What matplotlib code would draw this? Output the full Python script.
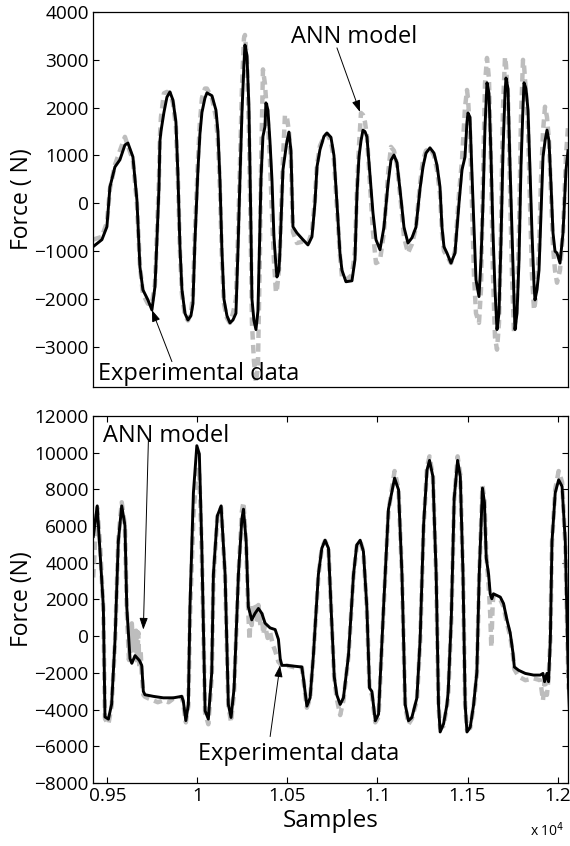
import matplotlib

matplotlib.use("Agg")
import matplotlib.pyplot as plt

plt.rcParams["font.family"] = ["Open Sans", "DejaVu Sans"]

GRAY = "#bdbdbd"

# --- upper panel (sample index within the window) ---
top_x = [0, 9, 14, 17, 22, 27, 32, 35, 40, 44, 47, 50, 55, 59, 62, 63, 66, 67, 68, 71, 74, 77,
         80, 83, 85, 87, 89, 92, 95, 98, 100, 102, 105, 107, 109, 112, 114, 119, 123, 125, 127,
         129, 131, 134, 137, 140, 143, 145, 147, 149, 151, 152, 154, 156, 158, 159, 161, 163,
         165, 167, 168, 170, 172, 173, 175, 177, 179, 181, 183, 184, 186, 187, 190, 192, 194,
         196, 198, 200, 204, 210, 215, 219, 222, 224, 227, 231, 234, 238, 241, 244, 247, 249,
         253, 259, 262, 264, 266, 268, 270, 272, 274, 277, 280, 283, 287, 291, 295, 298, 301,
         304, 308, 311, 315, 319, 323, 327, 330, 333, 337, 341, 344, 347, 349, 351, 354, 358,
         362, 366, 369, 372, 374, 375, 377, 379, 381, 383, 386, 388, 390, 392, 394, 396, 398,
         400, 402, 404, 406, 408, 410, 412, 413, 415, 417, 419, 421, 422, 424, 426, 428, 430,
         431, 433, 435, 437, 439, 441, 442, 444, 446, 448, 450, 452, 454, 456, 458, 460, 462,
         464, 467, 470, 473, 475]
top_model = [-910, -760, -490, 340, 760, 910, 1220, 1260, 970, 70, -1330, -1810, -2020, -2230,
             -1750, -1300, 300, 1300, 1500, 1900, 2220, 2330, 2160, 1700, 600, -900, -1800,
             -2300, -2440, -2350, -2100, -800, 700, 1450, 1900, 2200, 2310, 2250, 1950, 1500,
             500, -1000, -2000, -2350, -2500, -2440, -2300, -1000, 500, 1900, 2900, 3310, 3100,
             2000, -500, -2000, -2450, -2640, -2250, -500, 500, 1400, 1600, 2100, 1950, 1300,
             500, -700, -1300, -1540, -1400, -1000, 700, 1000, 1300, 1490, 1100, -490, -620,
             -760, -870, -700, 0, 760, 1120, 1400, 1470, 1380, 1000, 0, -1040, -1400, -1640,
             -1620, -1180, 200, 970, 1300, 1530, 1500, 1390, 600, -200, -760, -970, -500, 400,
             900, 1010, 850, 100, -500, -830, -720, -500, 300, 760, 1050, 1160, 1050, 800, 340,
             -500, -910, -1040, -1250, -1040, 0, 700, 970, 1700, 1890, 1800, 600, -500, -1600,
             -1950, -1200, 0, 1600, 2520, 2300, 1000, -620, -1800, -2640, -2300, -800, 1100,
             2300, 2620, 2400, 800, -620, -2000, -2640, -2300, -1200, 800, 2000, 2520, 2400,
             1950, 700, -620, -1700, -2020, -1800, -1400, -200, 970, 1300, 1530, 1300, 400,
             -620, -1000, -1040, -1250, -620, 700, 1100]
top_exp = [-760, -700, -400, 300, 800, 1100, 1390, 1200, 900, 0, -1300, -1900, -2100, -2100,
           -1700, -1200, 500, 1400, 1800, 2300, 2330, 2300, 2100, 1600, 500, -1000, -1900,
           -2350, -2450, -2300, -1900, -600, 900, 1700, 2200, 2400, 2400, 2200, 1800, 1300,
           300, -1200, -2100, -2400, -2500, -2300, -2000, -700, 800, 2400, 3450, 3520, 3000,
           1500, -1000, -2500, -3300, -3750, -3400, -1000, 600, 2800, 2500, 2200, 1700, 900,
           -200, -1200, -1870, -1800, -1400, -900, 900, 1850, 1800, 1500, 900, -600, -830,
           -800, -850, -600, 100, 800, 1200, 1390, 1450, 1300, 900, -100, -1100, -1540, -1600,
           -1500, -1000, 300, 1200, 1890, 1850, 1700, 1400, 400, -600, -1250, -1200, -600, 600,
           1180, 1100, 800, 0, -700, -1040, -850, -500, 400, 900, 1100, 1150, 1000, 700, 200,
           -600, -1000, -1100, -1250, -1000, 200, 900, 2000, 2370, 2200, 1500, 0, -1500, -2300,
           -2500, -1800, 500, 2500, 3040, 2600, 800, -1500, -2800, -3060, -2500, -500, 2000,
           3060, 2900, 2200, 300, -1500, -2710, -2600, -2000, -600, 1800, 3000, 2900, 2300,
           1600, 0, -1500, -2230, -2100, -1600, -1000, 500, 1500, 2020, 1800, 1300, 200,
           -900, -1400, -1660, -1400, -600, 1000, 1600]

# --- lower panel: (sample, force) points ---
bot_model = [(9422, 5430), (9444, 7100), (9478, 1600), (9487, -4400), (9506, -4520),
             (9524, -3700), (9543, -170), (9561, 5160), (9580, 7100), (9598, 6030),
             (9608, 1600), (9626, -1220), (9636, -1480), (9654, -1060), (9678, -1320),
             (9691, -1590), (9700, -3010), (9709, -3190), (9756, -3280), (9811, -3360),
             (9867, -3360), (9913, -3280), (9922, -3540), (9936, -4600), (9950, -3720),
             (9959, 1600), (9978, 7810), (9997, 10380), (10011, 9930), (10024, 5150),
             (10043, -4070), (10061, -4520), (10080, -1950), (10089, 3370), (10111, 6560),
             (10132, 7100), (10154, 3370), (10172, -3720), (10187, -4430), (10204, -2830),
             (10228, 3370), (10247, 6390), (10256, 6920), (10271, 5150), (10283, 1600),
             (10302, 890), (10320, 1240), (10339, 1510), (10358, 1240), (10376, 710),
             (10404, 450), (10432, 360), (10450, -170), (10460, -1230), (10469, -1590),
             (10497, -1590), (10580, -1680), (10589, -2300), (10608, -3810), (10626, -3360),
             (10644, -1060), (10672, 3370), (10691, 4790), (10709, 5230), (10728, 4790),
             (10745, 1000), (10760, -2200), (10774, -3190), (10793, -3720), (10811, -3360),
             (10839, -1060), (10867, 3370), (10885, 4970), (10904, 5230), (10922, 4620),
             (10941, 1600), (10956, -2830), (10969, -3010), (10988, -4610), (11006, -4250),
             (11034, 1600), (11061, 6920), (11095, 8610), (11117, 7980), (11136, 3370),
             (11154, -3720), (11172, -4610), (11191, -4430), (11219, -3360), (11237, -170),
             (11256, 6030), (11275, 9050), (11289, 9580), (11308, 8690), (11326, 3370),
             (11339, -3720), (11348, -5220), (11367, -4780), (11386, -3720), (11393, -3000),
             (11410, 1000), (11426, 7500), (11445, 9580), (11460, 8690), (11475, 3370),
             (11487, -3720), (11497, -5220), (11515, -4960), (11534, -3720), (11552, -1950),
             (11565, 3370), (11583, 8070), (11594, 7280), (11604, 4260), (11617, 3370),
             (11626, 2310), (11635, 2040), (11644, 2310), (11682, 2130), (11700, 1780),
             (11719, 890), (11737, 180), (11752, -880), (11760, -1680), (11784, -1860),
             (11821, -2030), (11867, -2120), (11904, -2120), (11919, -2030), (11928, -2480),
             (11941, -2030), (11950, -2480), (11960, -170), (11969, 5150), (11987, 7810),
             (12006, 8520), (12025, 8160), (12043, 5150), (12061, -2830), (12068, -4610)]
bot_exp = [(9422, 3200), (9434, 5500), (9444, 7000), (9460, 5000), (9478, 1400), (9487, -4500),
           (9506, -4800), (9524, -3800), (9543, -300), (9561, 5300), (9580, 7300), (9598, 6000),
           (9608, 1400), (9620, -1300), (9626, 300), (9632, -800), (9636, 700), (9642, -400),
           (9648, 500), (9654, -1000), (9660, 300), (9666, -1500), (9672, 200), (9678, -1700),
           (9685, -800), (9691, -2000), (9700, -3200), (9709, -3300), (9730, -3400),
           (9756, -3500), (9780, -3600), (9811, -3500), (9840, -3600), (9867, -3400),
           (9900, -3400), (9913, -3300), (9922, -3700), (9936, -4700), (9950, -3800),
           (9959, 1000), (9978, 6500), (9997, 9200), (10011, 8800), (10024, 4800),
           (10043, -4200), (10061, -4800), (10080, -2200), (10089, 3000), (10111, 6500),
           (10132, 7000), (10154, 3200), (10172, -3800), (10187, -4700), (10204, -3000),
           (10228, 3300), (10247, 6800), (10256, 7300), (10271, 5000), (10283, 1200),
           (10290, -200), (10296, 1500), (10302, 600), (10310, 1800), (10320, 1600),
           (10330, 900), (10339, 1700), (10350, 600), (10358, 1200), (10366, 100), (10376, 600),
           (10390, -100), (10404, 200), (10420, -500), (10432, -800), (10450, -1400),
           (10460, -1500), (10469, -1700), (10497, -1600), (10540, -1700), (10580, -1700),
           (10589, -2400), (10608, -3900), (10626, -3400), (10644, -1100), (10672, 3300),
           (10691, 4800), (10709, 5200), (10728, 4800), (10745, 900), (10760, -2300),
           (10774, -3400), (10793, -4300), (10811, -3500), (10839, -1100), (10867, 3300),
           (10885, 4900), (10904, 5200), (10922, 4600), (10941, 1500), (10956, -2900),
           (10969, -3200), (10988, -4700), (11006, -4400), (11034, 1500), (11061, 6800),
           (11095, 9000), (11117, 8000), (11136, 3300), (11154, -3800), (11172, -4800),
           (11191, -4500), (11219, -3500), (11237, -300), (11256, 5900), (11275, 9200),
           (11289, 9800), (11308, 8700), (11326, 3300), (11339, -3800), (11348, -5000),
           (11367, -4900), (11386, -3800), (11393, -3200), (11410, 900), (11426, 7400),
           (11445, 9800), (11460, 8800), (11475, 3300), (11487, -3800), (11497, -5100),
           (11515, -5000), (11534, -3800), (11552, -2100), (11565, 3300), (11583, 8200),
           (11594, 7400), (11604, 4500), (11617, 2800), (11626, 1200), (11632, -600),
           (11640, 1800), (11644, 2200), (11682, 2000), (11700, 1600), (11719, 700),
           (11737, 0), (11752, -1000), (11760, -1800), (11784, -2200), (11821, -2400),
           (11867, -2300), (11904, -2400), (11919, -3500), (11928, -2500), (11941, -3200),
           (11950, -2300), (11960, -200), (11969, 5100), (11987, 8000), (12006, 9000),
           (12025, 8400), (12043, 5000), (12061, -2900)]

top_yticks = [-3000, -2000, -1000, 0, 1000, 2000, 3000, 4000]
bot_yticks = [-8000, -6000, -4000, -2000, 0, 2000, 4000, 6000, 8000, 10000, 12000]
bot_xticks = [9500, 10000, 10500, 11000, 11500, 12000]
bot_xticklabels = ["0.95", "1", "1.05", "1.1", "1.15", "1.2"]


def minus(vals):
    return [str(v).replace("-", "\u2212") for v in vals]


fig = plt.figure(figsize=(5.70, 8.46), dpi=100)
ax1 = fig.add_axes([0.163, 0.5426, 0.8335, 0.4432])
ax2 = fig.add_axes([0.163, 0.0745, 0.8335, 0.4338])

dash = dict(color=GRAY, lw=3.2, ls="--", dashes=(1.9, 1.2))
line = dict(color="black", lw=2.1, solid_joinstyle="round")
ax1.plot(top_x, top_exp, **dash)
ax1.plot(top_x, top_model, **line)
ax2.plot(*zip(*bot_exp), **dash)
ax2.plot(*zip(*bot_model), **line)

for ax in (ax1, ax2):
    ax.tick_params(direction="in", length=4, width=0.8, labelsize=13.7,
                   top=True, right=True, pad=3)
    for s in ax.spines.values():
        s.set_linewidth(0.9)

ax1.set_xlim(0, 475)
ax1.set_ylim(-3840, 4000)
ax1.set_xticks([])
ax1.set_yticks(top_yticks)
ax1.set_yticklabels(minus(top_yticks))
ax1.set_ylabel("Force ( N)", fontsize=16.5, labelpad=0)

ax2.set_xlim(9420, 12058)
ax2.set_ylim(-8000, 12000)
ax2.set_yticks(bot_yticks)
ax2.set_yticklabels(minus(bot_yticks))
ax2.set_xticks(bot_xticks)
ax2.set_xticklabels(bot_xticklabels)
ax2.set_ylabel("Force (N)", fontsize=16.5, labelpad=0)
ax2.set_xlabel("Samples", fontsize=17.5, labelpad=3)
fig.text(0.93, 0.012, r"x 10$^{4}$", fontsize=10)

arrow = dict(arrowstyle="-|>,head_length=0.7,head_width=0.25", color="black", lw=0.7,
             shrinkA=0, shrinkB=0)
ax1.text(5, -3560, "Experimental data", fontsize=17, ha="left", va="center")
ax1.annotate("", xy=(59, -2230), xytext=(79, -3310), arrowprops=arrow)
ax1.text(198, 3480, "ANN model", fontsize=17, ha="left", va="center")
ax1.annotate("", xy=(267, 1910), xytext=(244, 3250), arrowprops=arrow)

ax2.text(9476, 10910, "ANN model", fontsize=17, ha="left", va="center")
ax2.annotate("", xy=(9700, 360), xytext=(9728, 10640), arrowprops=arrow)
ax2.text(10004, -6430, "Experimental data", fontsize=17, ha="left", va="center")
ax2.annotate("", xy=(10459, -1590), xytext=(10404, -5470), arrowprops=arrow)

fig.savefig("out.png", dpi=100)
